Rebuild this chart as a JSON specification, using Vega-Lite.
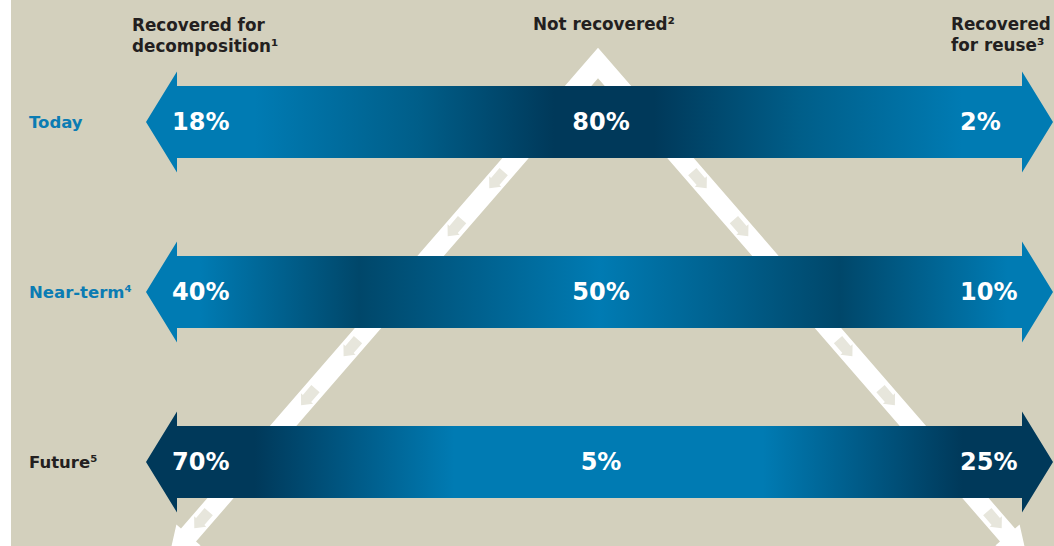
{
  "$schema": "https://vega.github.io/schema/vega-lite/v6.json",
  "width": 1043,
  "height": 546,
  "autosize": {"type": "none"},
  "padding": {"left": 11, "top": 0, "right": 0, "bottom": 0},
  "background": "#ffffff",
  "config": {"view": {"stroke": null, "fill": "#d3d0bd"}},
  "datasets": {
    "cells": [
      {"scenario": "Today", "category": "Recovered for decomposition", "share": 0.18},
      {"scenario": "Today", "category": "Not recovered", "share": 0.80},
      {"scenario": "Today", "category": "Recovered for reuse", "share": 0.02},
      {"scenario": "Near-term", "category": "Recovered for decomposition", "share": 0.40},
      {"scenario": "Near-term", "category": "Not recovered", "share": 0.50},
      {"scenario": "Near-term", "category": "Recovered for reuse", "share": 0.10},
      {"scenario": "Future", "category": "Recovered for decomposition", "share": 0.70},
      {"scenario": "Future", "category": "Not recovered", "share": 0.05},
      {"scenario": "Future", "category": "Recovered for reuse", "share": 0.25}
    ],
    "columns": [
      {"category": "Recovered for decomposition", "header": "Recovered for\ndecomposition¹"},
      {"category": "Not recovered", "header": "Not recovered²"},
      {"category": "Recovered for reuse", "header": "Recovered\nfor reuse³"}
    ],
    "rows": [
      {"scenario": "Today", "label": "Today"},
      {"scenario": "Near-term", "label": "Near-term⁴"},
      {"scenario": "Future", "label": "Future⁵"}
    ]
  },
  "data": {"name": "cells"},
  "encoding": {
    "x": {"field": "category", "type": "nominal",
          "scale": {"type": "point", "domain": ["Recovered for decomposition", "Not recovered", "Recovered for reuse"], "range": [161, 1016], "padding": 0},
          "axis": null},
    "y": {"field": "scenario", "type": "nominal",
          "scale": {"type": "point", "domain": ["Today", "Near-term", "Future"], "range": [122, 462], "padding": 0},
          "axis": null}
  },
  "layer": [
    {
      "transform": [{"filter": "datum.scenario === 'Near-term' && datum.category === 'Not recovered'"}],
      "mark": {"type": "point", "filled": true, "opacity": 1, "fill": "#ffffff", "strokeWidth": 0, "size": 1000000,
               "shape": "M-0.003,-0.4886L0.831,0.473L0.8402,0.465L0.8552,0.5314L0.7918,0.507L0.801,0.499L-0.003,-0.4274L-0.807,0.499L-0.7978,0.507L-0.8612,0.5314L-0.8462,0.465L-0.837,0.473Z"}
    },
    {
      "transform": [{"filter": "datum.scenario === 'Near-term' && datum.category === 'Not recovered'"}],
      "mark": {"type": "point", "filled": true, "opacity": 1, "fill": "#e7e6dc", "strokeWidth": 0, "size": 1000000,
               "shape": "M-0.1999,-0.2478L-0.2169,-0.2282L-0.2207,-0.2315L-0.2204,-0.2074L-0.1965,-0.2105L-0.2003,-0.2138L-0.1833,-0.2334ZM-0.2831,-0.1518L-0.3001,-0.1322L-0.3039,-0.1355L-0.3036,-0.1114L-0.2797,-0.1145L-0.2835,-0.1178L-0.2665,-0.1374ZM-0.4913,0.0882L-0.5083,0.1078L-0.5121,0.1045L-0.5118,0.1286L-0.4879,0.1255L-0.4917,0.1222L-0.4747,0.1026ZM-0.5763,0.1862L-0.5933,0.2058L-0.5971,0.2025L-0.5968,0.2266L-0.5729,0.2235L-0.5767,0.2202L-0.5597,0.2006ZM-0.7899,0.4322L-0.8069,0.4518L-0.8107,0.4485L-0.8104,0.4726L-0.7865,0.4695L-0.7903,0.4662L-0.7733,0.4466ZM0.1939,-0.2478L0.2109,-0.2282L0.2147,-0.2315L0.2144,-0.2074L0.1905,-0.2105L0.1943,-0.2138L0.1773,-0.2334ZM0.2771,-0.1518L0.2941,-0.1322L0.2979,-0.1355L0.2976,-0.1114L0.2737,-0.1145L0.2775,-0.1178L0.2605,-0.1374ZM0.4853,0.0882L0.5023,0.1078L0.5061,0.1045L0.5058,0.1286L0.4819,0.1255L0.4857,0.1222L0.4687,0.1026ZM0.5703,0.1862L0.5873,0.2058L0.5911,0.2025L0.5908,0.2266L0.5669,0.2235L0.5707,0.2202L0.5537,0.2006ZM0.7839,0.4322L0.8009,0.4518L0.8047,0.4485L0.8044,0.4726L0.7805,0.4695L0.7843,0.4662L0.7673,0.4466Z"}
    },
    {
      "transform": [{"filter": "datum.scenario === 'Today' && datum.category === 'Not recovered'"}],
      "mark": {"type": "point", "filled": true, "opacity": 1, "strokeWidth": 0, "size": 1000000,
               "shape": "M-0.907,0L-0.845,-0.101L-0.845,-0.072L0.845,-0.072L0.845,-0.101L0.907,0L0.845,0.101L0.845,0.072L-0.845,0.072L-0.845,0.101Z",
               "fill": {"gradient": "linear", "x1": 0, "y1": 0, "x2": 1, "y2": 0,
                        "stops": [{"offset": 0, "color": "#007bb3"}, {"offset": 0.12, "color": "#007bb3"}, {"offset": 0.3, "color": "#005e89"}, {"offset": 0.45, "color": "#00395a"}, {"offset": 0.56, "color": "#00395a"}, {"offset": 0.72, "color": "#005e89"}, {"offset": 0.9, "color": "#007bb3"}, {"offset": 1, "color": "#007bb3"}]}}
    },
    {
      "transform": [{"filter": "datum.scenario === 'Near-term' && datum.category === 'Not recovered'"}],
      "mark": {"type": "point", "filled": true, "opacity": 1, "strokeWidth": 0, "size": 1000000,
               "shape": "M-0.907,0L-0.845,-0.101L-0.845,-0.072L0.845,-0.072L0.845,-0.101L0.907,0L0.845,0.101L0.845,0.072L-0.845,0.072L-0.845,0.101Z",
               "fill": {"gradient": "linear", "x1": 0, "y1": 0, "x2": 1, "y2": 0,
                        "stops": [{"offset": 0, "color": "#007bb3"}, {"offset": 0.06, "color": "#007bb3"}, {"offset": 0.235, "color": "#00476a"}, {"offset": 0.5, "color": "#007bb3"}, {"offset": 0.765, "color": "#00476a"}, {"offset": 0.95, "color": "#007bb3"}, {"offset": 1, "color": "#007bb3"}]}}
    },
    {
      "transform": [{"filter": "datum.scenario === 'Future' && datum.category === 'Not recovered'"}],
      "mark": {"type": "point", "filled": true, "opacity": 1, "strokeWidth": 0, "size": 1000000,
               "shape": "M-0.907,0L-0.845,-0.101L-0.845,-0.072L0.845,-0.072L0.845,-0.101L0.907,0L0.845,0.101L0.845,0.072L-0.845,0.072L-0.845,0.101Z",
               "fill": {"gradient": "linear", "x1": 0, "y1": 0, "x2": 1, "y2": 0,
                        "stops": [{"offset": 0, "color": "#00395a"}, {"offset": 0.12, "color": "#00395a"}, {"offset": 0.34, "color": "#007bb3"}, {"offset": 0.68, "color": "#007bb3"}, {"offset": 0.9, "color": "#00395a"}, {"offset": 1, "color": "#00395a"}]}}
    },
    {
      "transform": [{"filter": "datum.category === 'Recovered for decomposition'"}],
      "mark": {"type": "text", "align": "left", "baseline": "alphabetic", "dx": 0, "dy": 8, "font": "DejaVu Sans", "fontWeight": "bold", "fontSize": 24, "fill": "#ffffff"},
      "encoding": {"text": {"field": "share", "type": "quantitative", "format": ".0%"}}
    },
    {
      "transform": [{"filter": "datum.category === 'Not recovered'"}],
      "mark": {"type": "text", "align": "center", "baseline": "alphabetic", "dx": 1.5, "dy": 8, "font": "DejaVu Sans", "fontWeight": "bold", "fontSize": 24, "fill": "#ffffff"},
      "encoding": {"text": {"field": "share", "type": "quantitative", "format": ".0%"}}
    },
    {
      "transform": [{"filter": "datum.category === 'Recovered for reuse'"}],
      "mark": {"type": "text", "align": "left", "baseline": "alphabetic", "dx": -67, "dy": 8, "font": "DejaVu Sans", "fontWeight": "bold", "fontSize": 24, "fill": "#ffffff"},
      "encoding": {"text": {"field": "share", "type": "quantitative", "format": ".0%"}}
    },
    {
      "data": {"name": "rows"},
      "mark": {"type": "text", "align": "left", "baseline": "alphabetic", "dx": -143, "dy": 6, "font": "DejaVu Sans", "fontWeight": "bold", "fontSize": 16.5},
      "encoding": {
        "x": {"datum": "Recovered for decomposition", "type": "nominal"},
        "text": {"field": "label", "type": "nominal"},
        "color": {"condition": {"test": "datum.scenario === 'Future'", "value": "#231f20"}, "value": "#0b7cb3"}
      }
    },
    {
      "data": {"name": "columns"},
      "transform": [{"filter": "datum.category === 'Recovered for decomposition'"}],
      "mark": {"type": "text", "align": "left", "baseline": "alphabetic", "dx": -40, "dy": -91, "lineBreak": "\n", "lineHeight": 20.5, "font": "DejaVu Sans", "fontWeight": "bold", "fontSize": 16.8, "fill": "#231f20"},
      "encoding": {"y": {"datum": "Today", "type": "nominal"}, "text": {"field": "header", "type": "nominal"}}
    },
    {
      "data": {"name": "columns"},
      "transform": [{"filter": "datum.category === 'Not recovered'"}],
      "mark": {"type": "text", "align": "center", "baseline": "alphabetic", "dx": 4.5, "dy": -92.5, "lineBreak": "\n", "lineHeight": 20.5, "font": "DejaVu Sans", "fontWeight": "bold", "fontSize": 16.8, "fill": "#231f20"},
      "encoding": {"y": {"datum": "Today", "type": "nominal"}, "text": {"field": "header", "type": "nominal"}}
    },
    {
      "data": {"name": "columns"},
      "transform": [{"filter": "datum.category === 'Recovered for reuse'"}],
      "mark": {"type": "text", "align": "left", "baseline": "alphabetic", "dx": -76, "dy": -92, "lineBreak": "\n", "lineHeight": 20.5, "font": "DejaVu Sans", "fontWeight": "bold", "fontSize": 16.8, "fill": "#231f20"},
      "encoding": {"y": {"datum": "Today", "type": "nominal"}, "text": {"field": "header", "type": "nominal"}}
    }
  ]
}
